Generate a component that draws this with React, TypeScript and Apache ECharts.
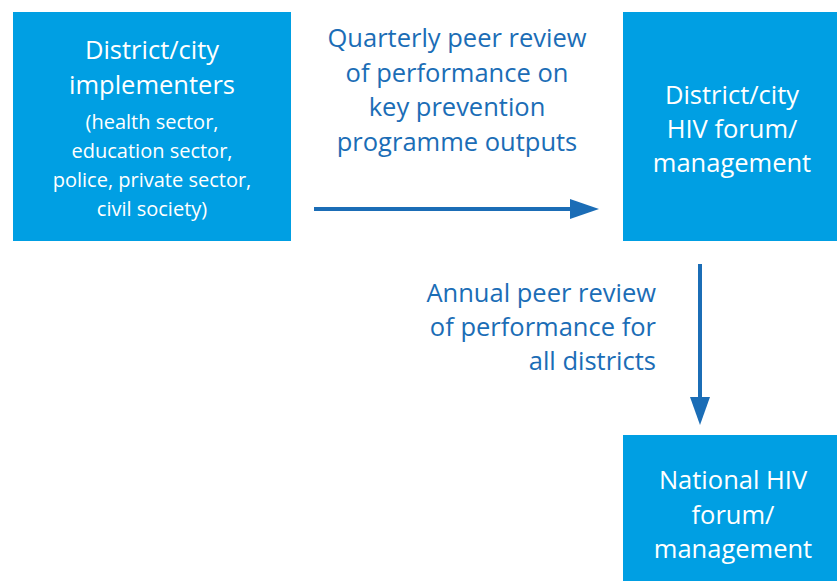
import React, { useEffect, useRef } from "react";
import * as echarts from "echarts";

const boxColor = "#009FE3";
const arrowColor = "#1B6DB6";
const labelColor = "#1B6DB6";
const FONT = "'Open Sans', sans-serif";

const implementerTitle = ["District/city", "implementers"];
const implementerSub = ["(health sector,", "education sector,", "police, private sector,", "civil society)"];
const districtForum = ["District/city", "HIV forum/", "management"];
const nationalForum = ["National HIV", "forum/", "management"];
const quarterlyLabel = ["Quarterly peer review", "of performance on", "key prevention", "programme outputs"];
const annualLabel = ["Annual peer review", "of performance for", "all districts"];

function lines(arr: string[], x: number, y0: number, step: number, size: number, fill: string, align: string) {
  return arr.map((t, i) => ({
    type: "text",
    x,
    y: y0 + i * step,
    style: { text: t, fill, font: `${size}px ${FONT}`, align, verticalAlign: "middle" },
  }));
}

export default function App() {
  const ref = useRef<HTMLDivElement>(null);
  useEffect(() => {
    if (!ref.current) return;
    const chart = echarts.init(ref.current, null, { renderer: "svg" });
    const elements: any[] = [
      { type: "rect", shape: { x: 13, y: 12, width: 278, height: 229 }, style: { fill: boxColor } },
      { type: "rect", shape: { x: 623, y: 12, width: 214, height: 229 }, style: { fill: boxColor } },
      { type: "rect", shape: { x: 623, y: 435, width: 214, height: 146 }, style: { fill: boxColor } },
      { type: "line", shape: { x1: 314, y1: 209, x2: 575, y2: 209 }, style: { stroke: arrowColor, lineWidth: 4 } },
      { type: "polygon", shape: { points: [[570, 199], [599, 209], [570, 219]] }, style: { fill: arrowColor } },
      { type: "line", shape: { x1: 700, y1: 264, x2: 700, y2: 400 }, style: { stroke: arrowColor, lineWidth: 4 } },
      { type: "polygon", shape: { points: [[690, 397], [710, 397], [700, 425]] }, style: { fill: arrowColor } },
      ...lines(implementerTitle, 152, 49, 35, 25.5, "#ffffff", "center"),
      ...lines(implementerSub, 152, 121, 29.3, 20, "#ffffff", "center"),
      ...lines(districtForum, 732, 94, 34, 25.5, "#ffffff", "center"),
      ...lines(nationalForum, 733, 479, 34.5, 25.5, "#ffffff", "center"),
      ...lines(quarterlyLabel, 457, 37, 34.5, 25.5, labelColor, "center"),
      ...lines(annualLabel, 656, 292, 34, 25.5, labelColor, "right"),
    ];
    chart.setOption({ animation: false, graphic: { elements } });
    return () => chart.dispose();
  }, []);
  return <div ref={ref} style={{ position: "absolute", left: 0, top: 0, width: 837, height: 581, background: "#fff" }} />;
}
